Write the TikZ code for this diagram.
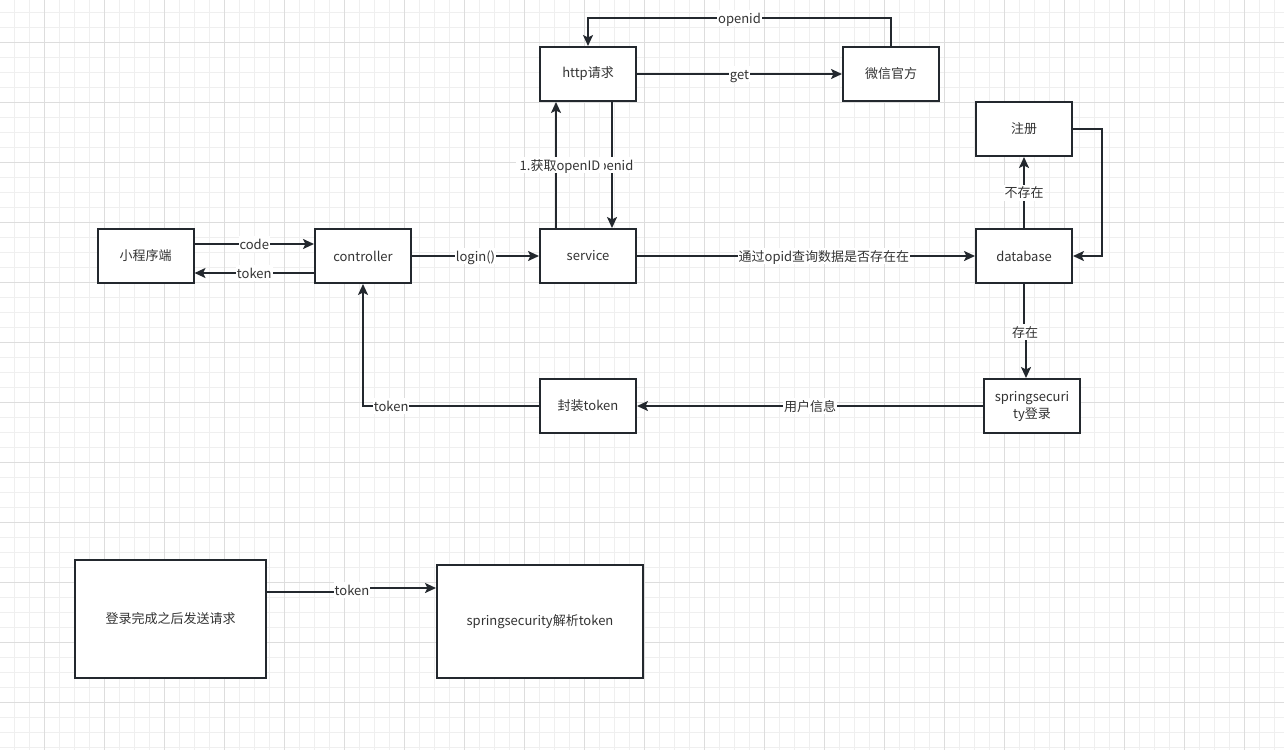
\documentclass[tikz,border=0pt]{standalone}
\usepackage{fontspec}
\setmainfont{Noto Sans CJK SC}
\usetikzlibrary{arrows.meta,calc}
\definecolor{linec}{HTML}{23282E}
\definecolor{textc}{HTML}{333333}
\definecolor{gridminor}{HTML}{EFEFEF}
\definecolor{gridmajor}{HTML}{DDDDDD}
\tikzset{
  box/.style={draw=linec, line width=2pt, fill=white, minimum width=96pt, minimum height=54pt, inner sep=0pt, text=textc, font=\fontsize{13pt}{17pt}\selectfont, align=center},
  conn/.style={draw=linec, line width=2pt},
  arr/.style={conn, -{Stealth[length=11pt,width=10pt,inset=2.5pt]}},
  lab/.style={fill=white, inner sep=1pt, text=textc, text height=12pt, text depth=2pt, font=\fontsize{13pt}{16pt}\selectfont}
}
\begin{document}
\begin{tikzpicture}[x=1pt,y=-1pt]
\useasboundingbox (0,0) rectangle (1284,750);
\fill[white] (0,0) rectangle (1284,750);
% grid
\foreach \x in {14,29,...,1284} \draw[gridminor, line width=1pt] (\x,0) -- (\x,750);
\foreach \y in {12,27,...,750} \draw[gridminor, line width=1pt] (0,\y) -- (1284,\y);
\foreach \x in {44,104,...,1284} \draw[gridmajor, line width=1pt] (\x,0) -- (\x,750);
\foreach \y in {42,102,...,750} \draw[gridmajor, line width=1pt] (0,\y) -- (1284,\y);

% nodes
\node[box] (p) at (145.5,256) {小程序端};
\node[box] (c) at (363,256) {controller};
\node[box] (s) at (588,256) {service};
\node[box] (h) at (588,74) {http请求};
\node[box] (w) at (891,74) {微信官方};
\node[box] (r) at (1024,129) {注册};
\node[box] (d) at (1024,256) {database};
\node[box] (ss) at (1032,406) {springsecuri\\ty登录};
\node[box] (f) at (588,406) {封装token};
\node[box, minimum width=191pt, minimum height=118pt] (L) at (170.5,619) {登录完成之后发送请求};
\node[box, minimum width=206pt, minimum height=113pt] (R) at (540,621.5) {springsecurity解析token};

% helper coordinates
\coordinate (topline) at (0,18);
\coordinate (rightline) at (1102,0);
\coordinate (j1) at (1024,332);
\coordinate (j2) at (1026,332);
\coordinate (k1) at (352,592);
\coordinate (k2) at (352,588);

% connectors
\draw[arr] ([yshift=12pt]p.east) -- node[lab]{code} ([yshift=12pt]c.west);
\draw[arr] ([yshift=-17pt]c.west) -- node[lab]{token} ([yshift=-17pt]p.east);
\draw[arr] (c.east) -- node[lab]{login()} (s.west);
\draw[arr] ([xshift=24pt]h.south) -- node[lab]{openid} ([xshift=24pt]s.north);
\draw[arr] ([xshift=-32pt]s.north) -- node[lab, xshift=4pt, inner xsep=3.7pt]{1.获取openID} ([xshift=-32pt]h.south);
\draw[arr] (h.east) -- node[lab]{get} (w.west);
\draw[arr] (w.north) -- (w.north |- topline) -- node[lab, pos=0.5]{openid} (h.north |- topline) -- (h.north);
\draw[arr] (s.east) -- node[lab, pos=0.553]{通过opid查询数据是否存在在} (d.west);
\draw[arr] (d.north) -- node[lab]{不存在} (r.south);
\draw[arr] (r.east) -- (r.east -| rightline) -- (d.east -| rightline) -- (d.east);
\draw[arr] (d.south) -- (j1) -- (j2) -- (j2 |- ss.north);
\node[lab] at (1025,332) {存在};
\draw[arr] (ss.west) -- node[lab]{用户信息} (f.east);
\draw[arr] (f.west) -- node[lab, pos=0.84]{token} (f.west -| c.south) -- (c.south);
\draw[arr] (L.east |- k1) -- (k1) -- (k2) -- (R.west |- k2);
\node[lab] at (352,590) {token};
\end{tikzpicture}
\end{document}
